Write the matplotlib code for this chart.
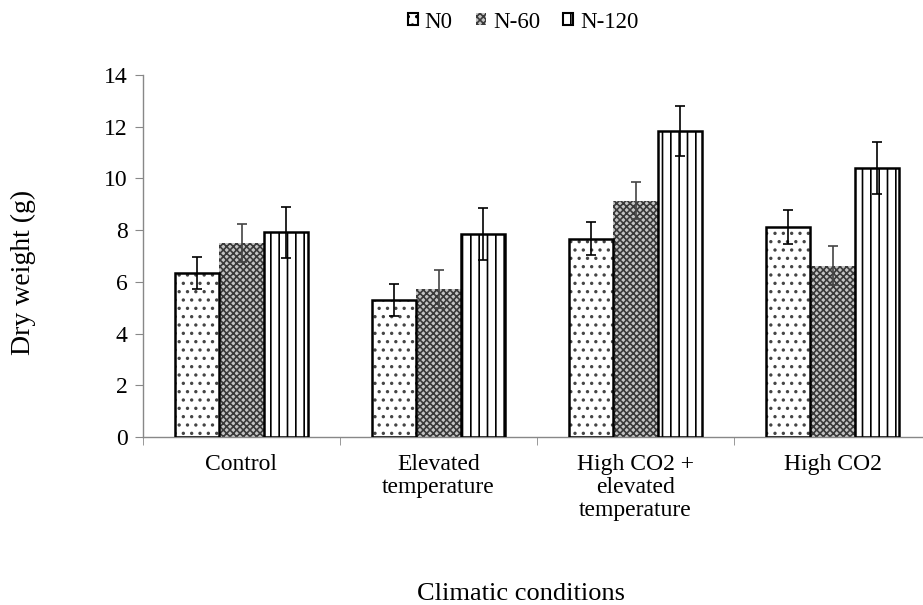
import matplotlib
matplotlib.use("Agg")
import matplotlib.pyplot as plt
import numpy as np

# dry weight by climatic condition and nitrogen dose
conditions = ["Control", "Elevated\ntemperature", "High CO2 +\nelevated\ntemperature", "High CO2"]
doses = ["N0", "N-60", "N-120"]
dry_weight = {
    "N0":    [6.35, 5.30, 7.66, 8.12],
    "N-60":  [7.50, 5.72, 9.14, 6.63],
    "N-120": [7.92, 7.85, 11.85, 10.40],
}
dry_weight_err = {
    "N0":    [0.62, 0.62, 0.64, 0.64],
    "N-60":  [0.74, 0.72, 0.72, 0.75],
    "N-120": [0.98, 1.00, 0.97, 1.00],
}

plt.rcParams.update({"font.family": ["Liberation Serif", "DejaVu Serif"],
                     "font.size": 17, "hatch.linewidth": 1.2})

STYLE = {
    "N0":    dict(face="white", hatch="..", hatch_col="#444444", edge="black", lw=1.8),
    "N-60":  dict(face="#c4c4c4", hatch="xxxxx", hatch_col="#3a3a3a", edge="none", lw=0),
    "N-120": dict(face="white", hatch="||", hatch_col="black", edge="black", lw=1.8),
}
ERR_COL = {"N0": "black", "N-60": "#444444", "N-120": "black"}

W, H = 923, 605
fig = plt.figure(figsize=(W / 100, H / 100), dpi=100)
ax = fig.add_axes([143 / W, 168 / H, 788 / W, 362 / H])

x = np.arange(len(conditions))
bw = 0.225
handles = []
for i, d in enumerate(doses):
    s = STYLE[d]
    xs = x + (i - 1) * bw
    ax.bar(xs, dry_weight[d], bw, color=s["face"], hatch=s["hatch"],
           edgecolor=s["hatch_col"], linewidth=0, zorder=2)
    ax.bar(xs, dry_weight[d], bw, color="none", edgecolor=s["edge"],
           linewidth=s["lw"], zorder=3)
    handles.append(plt.Rectangle((0, 0), 1, 1, facecolor=s["face"], hatch=s["hatch"],
                                 edgecolor=s["edge"] if s["edge"] != "none" else s["hatch_col"],
                                 linewidth=1.5 if s["lw"] else 0))
for i, d in enumerate(doses):
    xs = x + (i - 1) * bw
    ax.errorbar(xs, dry_weight[d], yerr=dry_weight_err[d], fmt="none",
                ecolor=ERR_COL[d], elinewidth=1.2, capsize=3.5, capthick=1.2, zorder=4)

ax.set_xlim(-0.5, 3.5)
ax.set_ylim(0, 14)
ax.set_yticks(np.arange(0, 15, 2))
ax.set_xticks(x)
ax.set_xticklabels(conditions, linespacing=1.12)
ax.set_xticks(np.arange(-0.5, 4, 1), minor=True)
ax.tick_params(axis="x", which="major", length=0, pad=12)
ax.tick_params(axis="x", which="minor", length=6, color="#888888", direction="out")
ax.tick_params(axis="y", length=6, color="#888888", direction="out", pad=5)
for side in ["top", "right"]:
    ax.spines[side].set_visible(False)
for side in ["left", "bottom"]:
    ax.spines[side].set_color("#888888")
    ax.spines[side].set_linewidth(1.0)

fig.text(23 / W, 1 - 272 / H, "Dry weight (g)", rotation=90, ha="center", va="center",
         fontsize=20)
fig.text(521 / W, 1 - 594 / H, "Climatic conditions", ha="center", va="center",
         fontsize=19)

fig.legend(handles, doses, loc="center", bbox_to_anchor=(523 / W, 1 - 22 / H),
           ncol=3, frameon=False, fontsize=16.5, handlelength=0.45, handleheight=0.45,
           handletextpad=0.3, columnspacing=1.0, borderpad=0)

fig.savefig("out.png", dpi=100)
